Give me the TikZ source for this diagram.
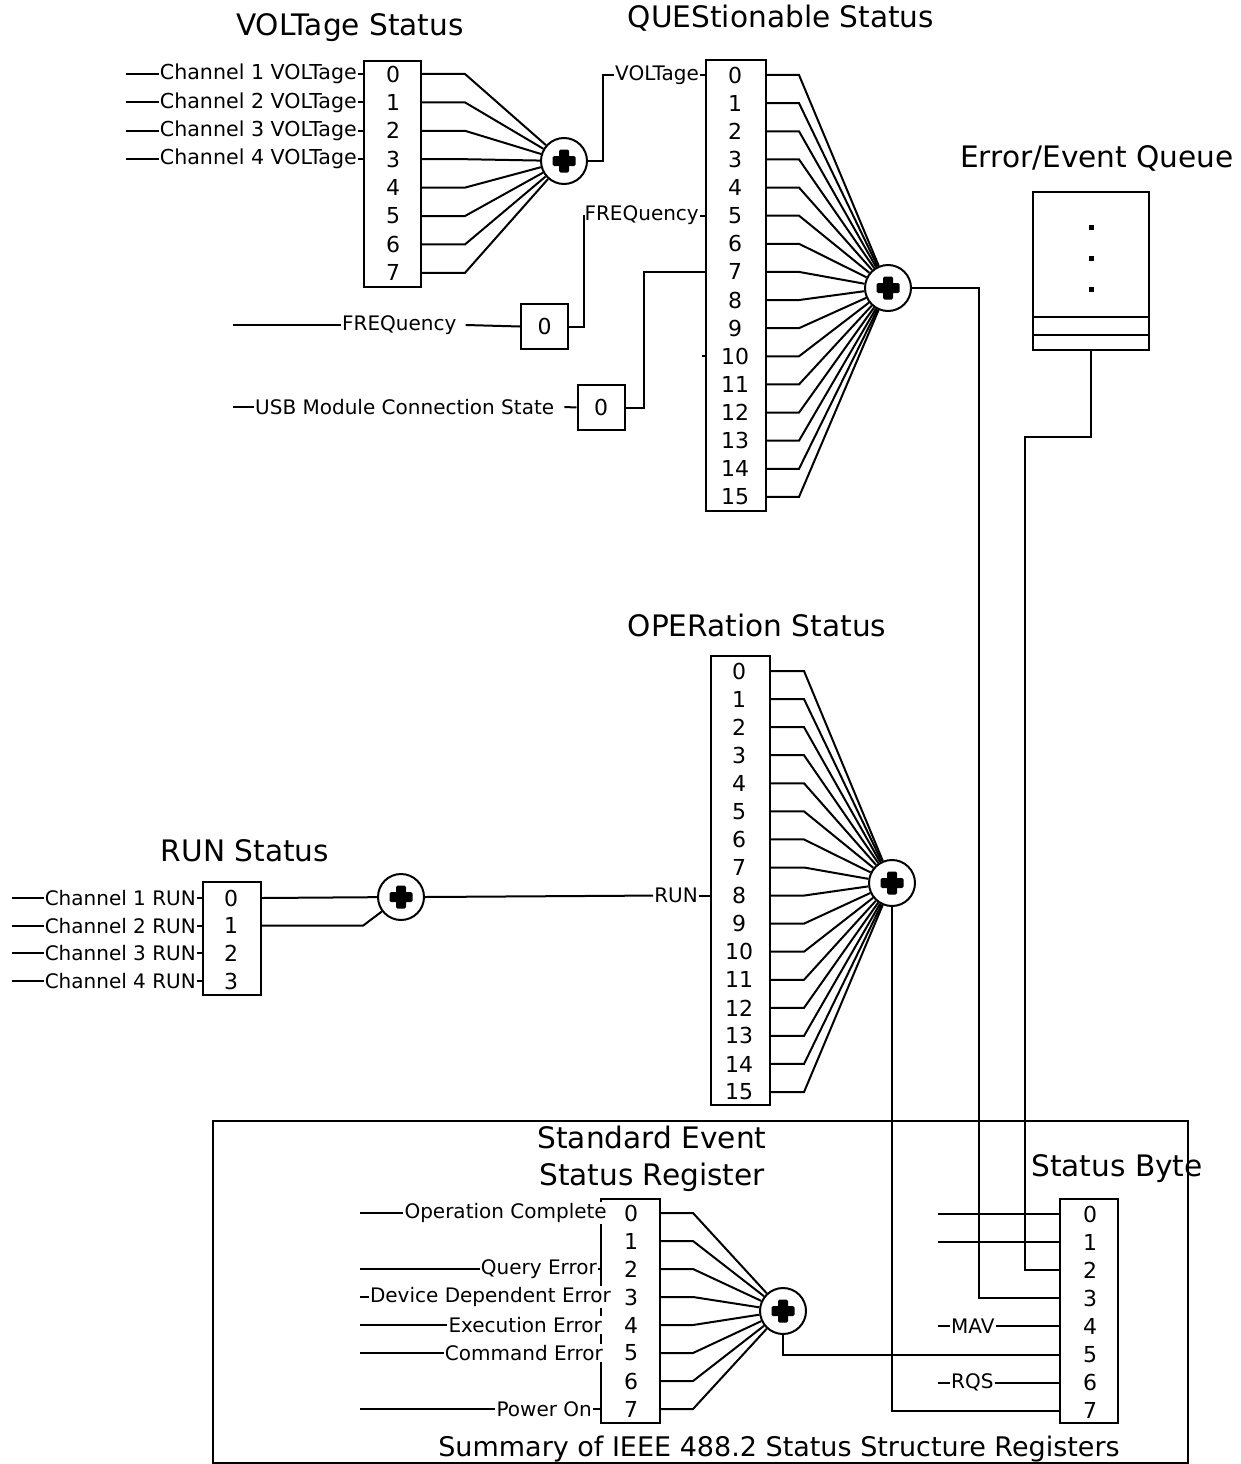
\documentclass[tikz,border=0pt]{standalone}
\usepackage{fontspec}
\setmainfont{DejaVu Sans}
\usetikzlibrary{positioning,calc}

\begin{document}
\begin{tikzpicture}[
  x=1pt, y=-1pt,
  wire/.style={line width=2pt},
  reg/.style={draw, line width=2pt, fill=white, inner sep=0pt},
  flag/.style={reg, minimum width=47pt, minimum height=45pt, font=\fontsize{22}{26}\selectfont},
  bit/.style={inner sep=0pt, font=\fontsize{22}{26}\selectfont},
  lbl/.style={fill=white, inner sep=1pt, font=\fontsize{20}{24}\selectfont},
  heading/.style={inner sep=0pt, align=center, font=\fontsize{29.6}{37}\selectfont},
  adder/.style={circle, draw, line width=2pt, fill=white, minimum size=46pt, inner sep=0pt,
    path picture={
      \fill[black, rounded corners=1.5pt] ([xshift=-11.5pt,yshift=-5pt]path picture bounding box.center)
        rectangle ([xshift=11.5pt,yshift=5pt]path picture bounding box.center);
      \fill[black, rounded corners=1.5pt] ([xshift=-5pt,yshift=-11.5pt]path picture bounding box.center)
        rectangle ([xshift=5pt,yshift=11.5pt]path picture bounding box.center);}}
]
\useasboundingbox (0,0) rectangle (1240,1464);

% VOLTage status register
\node[heading] at (350,28) {VOLTage Status};
\node[reg, minimum width=57pt, minimum height=226pt] (volt) at (392.5,174) {};
\foreach \i in {0,...,7} \node[bit] (v\i) at (393,74+28.4*\i) {\i};
\coordinate (voltin) at (126,0);
\foreach \j/\n in {0/1,1/2,2/3,3/4} {
  \node[lbl, anchor=east, font=\fontsize{20.6}{24}\selectfont] (cv\n) at ([xshift=-5pt]volt.west |- v\j) {Channel \n\ VOLTage};
  \draw[wire] (cv\n.west -| voltin) -- (cv\n.west);
  \draw[wire] (cv\n.east) -- (volt.west |- v\j);
}
\node[adder] (sumV) at (564,161) {};
\foreach \i in {0,...,7} \draw[wire] (volt.east |- v\i) -- ++(43,0) -- (sumV);

% QUEStionable status register
\node[heading] at (781,18) {QUEStionable Status};
\node[reg, minimum width=60pt, minimum height=451pt] (ques) at (736,285.5) {};
\foreach \i in {0,...,15} \node[bit] (q\i) at (735,75+28.13*\i) {\i};
\node[adder] (sumQ) at (888,288) {};
\foreach \i in {0,...,15} \draw[wire] (ques.east |- q\i) -- ++(32,0) -- (sumQ);

\node[lbl, anchor=east] (qvolt) at ([xshift=-5pt]ques.west |- q0) {VOLTage};
\draw[wire] (sumV.east) -- ++(15,0) |- (qvolt.west);
\draw[wire] (qvolt.east) -- (ques.west |- q0);

% FREQuency
\coordinate (freqin) at (233,325);
\node[lbl, anchor=west] (lfreq) at (341,325) {FREQuency};
\node[flag] (f0) at (544.5,326.5) {0};
\draw[wire] (freqin) -- (lfreq.west);
\draw[wire] ([xshift=8pt]lfreq.east) -- (f0.west);
\node[lbl, anchor=east] (qfreq) at ([xshift=-5pt]ques.west |- q5) {FREQuency};
\draw[wire] (f0.east) -- ++(15,0) |- (qfreq.west);
\draw[wire] (qfreq.east) -- (ques.west |- q5);

% USB module
\coordinate (usbin) at (233,407);
\node[lbl, anchor=west] (lusb) at (254,407) {USB Module Connection State};
\node[flag] (u0) at (601,407.5) {0};
\draw[wire] (usbin) -- (lusb.west);
\draw[wire] ([xshift=9pt]lusb.east) -- (u0.west);
\draw[wire] (u0.east) -- ++(18,0) |- (ques.west |- q7);
\draw[wire] (ques.west |- q10) -- ++(-3,0);

% Error/Event queue
\node[heading] at (1097,158) {Error/Event Queue};
\node[reg, minimum width=116pt, minimum height=158pt] (queue) at (1091,271) {};
\draw[wire] ([yshift=34pt]queue.south west) -- ([yshift=34pt]queue.south east);
\draw[wire] ([yshift=16pt]queue.south west) -- ([yshift=16pt]queue.south east);
\foreach \y in {227,258,289} \fill (1088.5,\y-2.5) rectangle ++(5,5);

% OPERation status register
\node[heading] at (757,625) {OPERation Status};
\node[reg, minimum width=59pt, minimum height=449pt] (oper) at (740.5,880.5) {};
\foreach \i in {0,...,15} \node[bit] (o\i) at (739,671+28.07*\i) {\i};
\node[adder] (sumO) at (892,883) {};
\foreach \i in {0,...,15} \draw[wire] (oper.east |- o\i) -- ++(33,0) -- (sumO);

% RUN status register
\node[heading] at (245,851) {RUN Status};
\node[reg, minimum width=58pt, minimum height=113pt] (run) at (232,938.5) {};
\foreach \i in {0,...,3} \node[bit] (r\i) at (231,898+27.7*\i) {\i};
\coordinate (runin) at (12,0);
\foreach \j/\n in {0/1,1/2,2/3,3/4} {
  \node[lbl, anchor=east] (cr\n) at ([xshift=-5pt]run.west |- r\j) {Channel \n\ RUN};
  \draw[wire] (cr\n.west -| runin) -- (cr\n.west);
  \draw[wire] (cr\n.east) -- (run.west |- r\j);
}
\node[adder] (sumR) at (401,897) {};
\draw[wire] (run.east |- r0) -- (sumR);
\draw[wire] (run.east |- r1) -- ++(101,0) -- (sumR);
\node[lbl, anchor=east] (orun) at ([xshift=-11pt]oper.west |- o8) {RUN};
\draw[wire] (sumR.east) -- (orun.west);
\draw[wire] (orun.east) -- (oper.west |- o8);

% IEEE 488.2 frame
\node[draw, line width=2pt, minimum width=975pt, minimum height=342pt, inner sep=0pt] (frame) at (700.5,1292) {};
\node[heading, font=\fontsize{27}{32}\selectfont] at (779,1449) {Summary of IEEE 488.2 Status Structure Registers};

% Status byte
\node[heading] at (1117,1169) {Status Byte};
\node[reg, minimum width=58pt, minimum height=224pt] (sb) at (1089,1311) {};
\foreach \i in {0,...,7} \node[bit] (s\i) at (1090,1214+28.1*\i) {\i};
\coordinate (sbleft) at (938,0);
\draw[wire] (s0 -| sbleft) -- (sb.west |- s0);
\draw[wire] (s1 -| sbleft) -- (sb.west |- s1);
\node[lbl, anchor=west] (mav) at ([xshift=12pt]s4 -| sbleft) {MAV};
\draw[wire] (s4 -| sbleft) -- (mav.west);
\draw[wire] (mav.east) -- (sb.west |- s4);
\node[lbl, anchor=west] (rqs) at ([xshift=12pt]s6 -| sbleft) {RQS};
\draw[wire] (s6 -| sbleft) -- (rqs.west);
\draw[wire] (rqs.east) -- (sb.west |- s6);

% Standard event status register
\node[heading] at (652,1159) {Standard Event\\Status Register};
\node[reg, minimum width=59pt, minimum height=224pt] (esr) at (630.5,1311) {};
\foreach \i in {0,...,7} \node[bit] (e\i) at (631,1213+28*\i) {\i};
\coordinate (esrin) at (360,0);
\foreach \j/\dx/\txt in {0/8/Operation Complete, 2/-2/Query Error, 3/12/Device Dependent Error,
    4/3/Execution Error, 5/4/Command Error, 7/-7/Power On} {
  \node[lbl, anchor=east] (el\j) at ([xshift=\dx pt]esr.west |- e\j) {\txt};
  \draw[wire] (el\j.west -| esrin) -- (el\j.west);
}
\draw[wire] (el2.east) -- (esr.west |- e2);
\draw[wire] (el7.east) -- (esr.west |- e7);
\node[adder] (sumE) at (783,1311) {};
\foreach \i in {0,...,7} \draw[wire] (esr.east |- e\i) -- ++(32,0) -- (sumE);

% summaries into the status byte
\draw[wire] (sumQ.east) -| ([xshift=-80pt]sb.west |- s3) -- (sb.west |- s3);
\draw[wire] (queue.south) |- (1025,437) |- (sb.west |- s2);
\draw[wire] (sumO.south) |- (sb.west |- s7);
\draw[wire] (sumE.south) |- (sb.west |- s5);
\end{tikzpicture}
\end{document}
